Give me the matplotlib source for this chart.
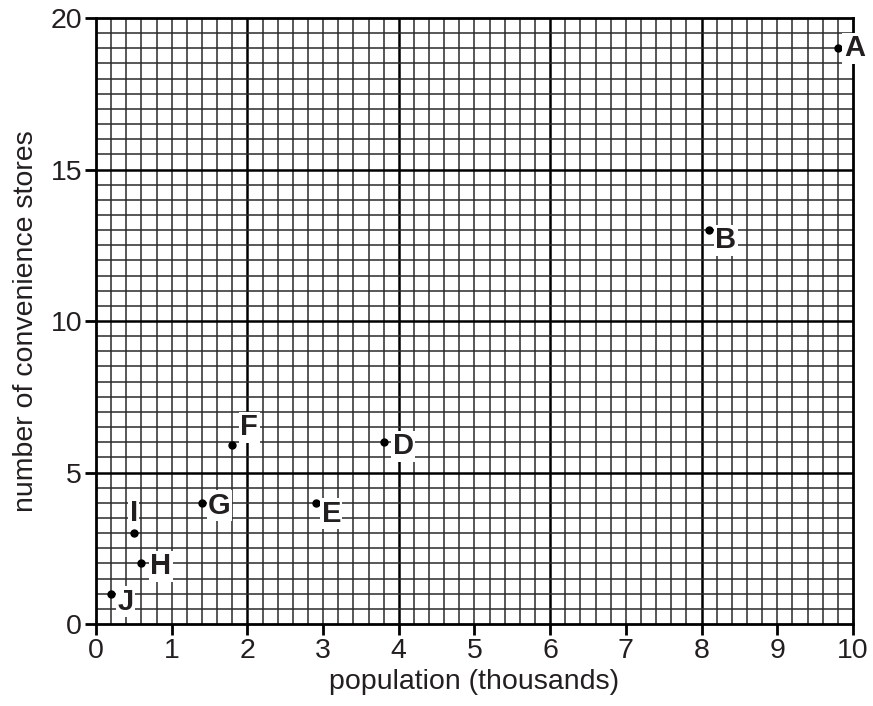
import matplotlib
matplotlib.use("Agg")
import matplotlib.pyplot as plt
import numpy as np

plt.rcParams['font.family'] = ['Liberation Sans', 'DejaVu Sans']

labels = ["A", "B", "D", "E", "F", "G", "H", "I", "J"]
population = [9.8, 8.1, 3.8, 2.9, 1.8, 1.4, 0.6, 0.5, 0.2]
stores = [19, 13, 6, 4, 5.9, 4, 2, 3, 1]
label_offsets = {"A": (6, 0, "left"), "B": (6, -10, "left"), "D": (9, -4, "left"),
                 "E": (6, -11, "left"), "F": (8, 18, "left"), "G": (6, -3, "left"),
                 "H": (9, -3, "left"), "I": (0, 20, "center"), "J": (6, -8, "left")}

x_ticks = list(range(0, 11))
y_ticks = [0, 5, 10, 15, 20]

fig = plt.figure(figsize=(8.73, 7.06), dpi=100)
ax = fig.add_axes([0.110, 0.1161, 0.867, 0.8584])
ax.set_xlim(0, 10)
ax.set_ylim(0, 20)

# grid
for xv in np.arange(0.2, 10, 0.2):
    major = abs(xv / 2 - round(xv / 2)) < 1e-6
    ax.axvline(xv, color='black' if major else '#2a2a2a', lw=1.8 if major else 1.1, zorder=1)
for yv in np.arange(0.5, 20, 0.5):
    major = abs(yv / 5 - round(yv / 5)) < 1e-6
    ax.axhline(yv, color='black' if major else '#2a2a2a', lw=1.8 if major else 1.1, zorder=1)

for s in ax.spines.values():
    s.set_linewidth(2)
    s.set_zorder(3)

ax.set_xticks(x_ticks)
ax.set_yticks(y_ticks)
ax.tick_params(direction='out', length=8, width=2, labelsize=20.5, pad=2,
               labelcolor='#231f20')

ax.plot(population, stores, 'o', color='black', markersize=5, zorder=4)
for lab, px, py in zip(labels, population, stores):
    dx, dy, ha = label_offsets[lab]
    ax.annotate(lab, (px, py), xytext=(dx, dy), textcoords='offset pixels',
                ha=ha, va='center', fontsize=21, fontweight='bold', color='#231f20',
                bbox=dict(boxstyle='square,pad=0.05', fc='white', ec='none'), zorder=5)

ax.set_xlabel("population (thousands)", fontsize=20.5, labelpad=4, color='#231f20')
ax.set_ylabel("number of convenience stores", fontsize=20.5, labelpad=8, color='#231f20')

fig.savefig("out.png", dpi=100)
